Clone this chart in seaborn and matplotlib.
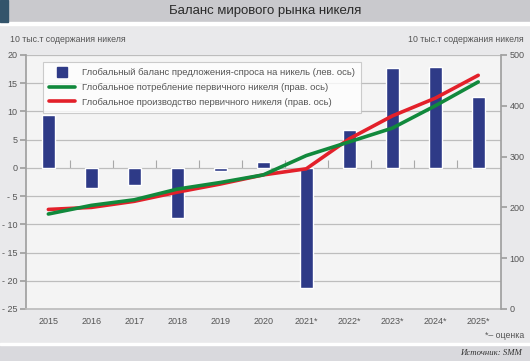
import numpy as np
import pandas as pd
import matplotlib
matplotlib.use("Agg")
import matplotlib.pyplot as plt
import seaborn as sns
from matplotlib.patches import Rectangle
from matplotlib.lines import Line2D

years = ["2015", "2016", "2017", "2018", "2019", "2020", "2021*", "2022*", "2023*", "2024*", "2025*"]
balance = [9.4, -3.6, -3.1, -8.8, -0.6, 1.1, -21.2, 6.8, 17.7, 17.9, 12.6]
consumption = [187, 204, 215, 236, 249, 264, 302, 329, 356, 400, 447]
production = [196, 200, 212, 230, 246, 264, 276, 335, 380, 415, 460]

left_ticks = [20, 15, 10, 5, 0, -5, -10, -15, -20, -25]
right_ticks = [0, 100, 200, 300, 400, 500]

title = "Баланс мирового рынка никеля"
unit = "10 тыс.т содержания никеля"
labels = ["Глобальный баланс предложения-спроса на никель (лев. ось)",
          "Глобальное потребление первичного никеля (прав. ось)",
          "Глобальное производство первичного никеля (прав. ось)"]

sns.set_theme(style="white")
plt.rcParams['font.family'] = ['Liberation Sans', 'DejaVu Sans']

BAR = "#2e3a87"
GREEN = "#11893c"
RED = "#e3202a"
TXT = "#555555"
GRID = "#bdbdbd"

fig = plt.figure(figsize=(5.3, 3.61), dpi=100)
fig.patch.set_facecolor("#e9e9eb")

# header / footer decorations
fig.add_artist(Rectangle((0, 1 - 22/361), 1, 22/361, transform=fig.transFigure, color="#c9c9cd", zorder=0))
fig.add_artist(Rectangle((0, 1 - 22/361), 8/530, 22/361, transform=fig.transFigure, color="#33546b", zorder=1))
fig.add_artist(Rectangle((0, 1 - 25/361), 1, 3/361, transform=fig.transFigure, color="#ffffff", zorder=0))
fig.add_artist(Rectangle((0, 0), 1, 16/361, transform=fig.transFigure, color="#d9d9dd", zorder=0))
fig.add_artist(Rectangle((0, 16/361), 1, 2/361, transform=fig.transFigure, color="#ffffff", zorder=0))
fig.text(0.5, 1 - 11/361, title, ha="center", va="center", fontsize=9.5, color="#2a2a2a")
fig.text(10/530, 1 - 40/361, unit, ha="left", va="center", fontsize=6.3, color=TXT)
fig.text(524/530, 1 - 40/361, unit, ha="right", va="center", fontsize=6.3, color=TXT)
fig.text(524/530, 1 - 336/361, "*– оценка", ha="right", va="center", fontsize=6.3, color=TXT)
fig.text(522/530, 1 - 353/361, "Источник: SMM", ha="right", va="center", fontsize=6.3,
         color="#333333", style="italic", family=["Liberation Serif", "DejaVu Serif"])

ax = fig.add_axes([26/530, 1 - 309/361, (501 - 26)/530, (309 - 55)/361])
ax.set_facecolor("#f4f4f4")

df = pd.DataFrame({"year": years, "balance": balance,
                   "consumption": consumption, "production": production})
df["pos"] = np.arange(len(years))

XL = (-0.52, 10.53)
sns.barplot(data=df, x="year", y="balance", order=years, color=BAR, width=0.31,
            saturation=1, ax=ax, zorder=3)
ax.set_ylim(-25, 20)
ax.set_xlim(*XL)
ax.set_yticks(left_ticks)
ax.set_yticklabels([str(t) if t >= 0 else "- " + str(-t) for t in left_ticks])
ax.yaxis.grid(True, color=GRID, lw=0.9, zorder=0)
ax.set_axisbelow(True)
ax.set_xlabel("")
ax.set_ylabel("")
ax.spines["top"].set_visible(False)
ax.spines["left"].set_color("#a0a0a0")
ax.spines["bottom"].set_color(GRID)
ax.spines["right"].set_visible(False)
ax.tick_params(axis="y", left=True, length=4, color="#a0a0a0", labelsize=6.5, labelcolor=TXT, pad=2)
ax.tick_params(axis="x", bottom=False, length=0, labelsize=6.5, labelcolor=TXT, pad=6)

# small category separators on the zero line
sec = ax.secondary_xaxis(25/45)
sec.set_xticks(np.arange(len(years) - 1) + 0.5)
sec.set_xticklabels([])
sec.tick_params(direction="out", length=5.5, width=0.8, color="#a8a8a8")
for s in sec.spines.values():
    s.set_visible(False)

ax2 = ax.twinx()
sns.lineplot(data=df, x="pos", y="consumption", color=GREEN, lw=2.6, ax=ax2, zorder=5)
sns.lineplot(data=df, x="pos", y="production", color=RED, lw=2.6, ax=ax2, zorder=4)
ax2.set_ylim(0, 500)
ax2.set_yticks(right_ticks)
ax2.set_xlabel("")
ax2.set_ylabel("")
for s in ["top", "left", "bottom"]:
    ax2.spines[s].set_visible(False)
ax2.spines["right"].set_color("#a0a0a0")
ax2.tick_params(axis="y", right=True, length=4, color="#a0a0a0", labelsize=6.5, labelcolor=TXT, pad=2)
ax2.set_xlim(*XL)

handles = [Line2D([], [], color=BAR, marker="s", markersize=7, lw=0),
           Line2D([], [], color=GREEN, lw=2.6),
           Line2D([], [], color=RED, lw=2.6)]
leg = ax2.legend(handles, labels, loc="upper left", bbox_to_anchor=(0.036, 0.972),
                 borderaxespad=0, fontsize=6.8, frameon=True, fancybox=False, handlelength=2.7,
                 labelspacing=0.6, borderpad=0.65, handletextpad=0.8, numpoints=1)
leg.get_frame().set_edgecolor("#c0c0c0")
leg.get_frame().set_linewidth(0.8)
for t in leg.get_texts():
    t.set_color(TXT)

fig.savefig("out.png", dpi=100, facecolor=fig.get_facecolor())
